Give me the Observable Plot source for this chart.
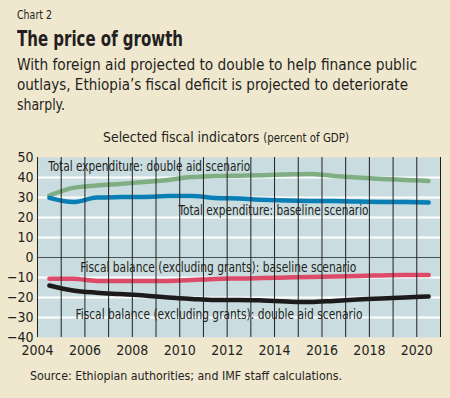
<!DOCTYPE html>
<html>
<head>
<meta charset="utf-8">
<script src="https://cdn.jsdelivr.net/npm/d3@7"></script>
<script src="https://cdn.jsdelivr.net/npm/@observablehq/plot@0.6"></script>
<style>
  html, body { margin: 0; padding: 0; }
  body { width: 450px; height: 398px; background: #f0e7cf; position: relative; overflow: hidden;
         font-family: "DejaVu Sans Condensed", "Liberation Sans", sans-serif; color: #231f20; }
  .abs { position: absolute; white-space: nowrap; transform-origin: 0 0; }
  #kicker { left: 17px; top: 8px; font-size: 12px; }
  #title { left: 17px; top: 27px; font-size: 21px; font-weight: bold; }
  .sub { left: 17px; font-size: 16.5px; }
  #sub1 { top: 55px; }
  #sub2 { top: 75px; }
  #sub3 { top: 95px; }
  #charttitle { left: 103px; top: 129px; font-size: 14px; }
  #charttitle span { font-size: 11.5px; }
  #source { left: 30px; top: 369px; font-size: 12.3px; }
  #chart { position: absolute; left: 0; top: 145px; }
</style>
</head>
<body>
<div class="abs" id="kicker" data-w="35">Chart 2</div>
<div class="abs" id="title" data-w="166">The price of growth</div>
<div class="abs sub" id="sub1" data-w="400">With foreign aid projected to double to help finance public</div>
<div class="abs sub" id="sub2" data-w="391">outlays, Ethiopia’s fiscal deficit is projected to deteriorate</div>
<div class="abs sub" id="sub3" data-w="48">sharply.</div>
<div class="abs" id="charttitle" data-w="246">Selected fiscal indicators <span>(percent of GDP)</span></div>
<div id="chart"></div>
<div class="abs" id="source" data-w="312">Source: Ethiopian authorities; and IMF staff calculations.</div>
<script>
// Years (values plotted at mid-year)
const years = [2004.5, 2005.5, 2006.5, 2007.5, 2008.5, 2009.5, 2010.5, 2011.5, 2012.5,
               2013.5, 2014.5, 2015.5, 2016.5, 2017.5, 2018.5, 2019.5, 2020.5];
const expDoubleAid = [31, 34.8, 36, 36.8, 37.7, 38.8, 40.2, 40.7, 40.9, 41.1, 41.5, 41.8, 40.8, 40, 39.3, 38.8, 38.3];
const expBaseline  = [29.8, 27.7, 30, 30.2, 30.3, 30.7, 30.8, 29.8, 29.5, 28.9, 28.5, 28.3, 28.2, 28, 27.8, 27.7, 27.5];
const balBaseline  = [-10.6, -10.6, -11.7, -11.7, -11.7, -11.7, -11.3, -10.7, -10.5, -10.3, -10, -9.7, -9.5, -9.2, -9, -8.8, -8.7];
const balDoubleAid = [-14, -16.5, -17.6, -18.3, -19, -20, -20.7, -21.2, -21.2, -21.5, -22, -22.3, -21.7, -21, -20.5, -20, -19.5];

const seriesNames = ["expDoubleAid", "expBaseline", "balBaseline", "balDoubleAid"];
const seriesValues = [expDoubleAid, expBaseline, balBaseline, balDoubleAid];
const seriesColors = ["#7fae82", "#0a7fb6", "#de4b68", "#1c1a1a"];

const yTicks = [50, 40, 30, 20, 10, 0, -10, -20, -30, -40];
const xTickLabels = [2004, 2006, 2008, 2010, 2012, 2014, 2016, 2018, 2020];
const xTickMarks = d3.range(2004, 2022);

// In-chart labels (text, anchor year, anchor value)
const labelText = ["Total expenditure: double aid scenario",
                   "Total expenditure: baseline scenario",
                   "Fiscal balance (excluding grants): baseline scenario",
                   "Fiscal balance (excluding grants): double aid scenario"];
const labelYear = [2004.45, 2009.95, 2005.8, 2005.6];
const labelValue = [45.2, 23.5, -4.9, -28.5];

// Styling: rendered widths of the in-chart labels (condensed face)
const labelPixelWidths = [202, 190, 276, 287];

const lineData = seriesNames.flatMap((s, i) => years.map((yr, j) => ({series: s, year: yr, value: seriesValues[i][j]})));
const labels = labelText.map((t, i) => ({text: t, year: labelYear[i], value: labelValue[i]}));

const plot = Plot.plot({
  width: 450,
  height: 215,
  marginTop: 12,
  marginLeft: 37,
  marginRight: 10,
  marginBottom: 23,
  style: {background: "transparent", fontFamily: "'DejaVu Sans Condensed', sans-serif", color: "#231f20"},
  x: {domain: [2004, 2021], axis: null},
  y: {domain: [-40, 50], axis: null},
  color: {domain: seriesNames, range: seriesColors},
  marks: [
    Plot.frame({fill: "#c9dcdf", stroke: null}),
    Plot.ruleY(yTicks.filter(d => d !== 0 && d !== -40 && d !== 50), {stroke: "#ffffff", strokeWidth: 2}),
    Plot.ruleY([0], {stroke: "#4a525a", strokeWidth: 1}),
    Plot.line(lineData, {x: "year", y: "value", z: "series", stroke: "series", strokeWidth: 4.5, curve: "monotone-x", strokeLinecap: "round"}),
    Plot.text(labels, {x: "year", y: "value", text: "text", textAnchor: "start", fontSize: 13.5, fill: "#231f20", className: "inlabel"}),
    Plot.tickX(xTickMarks, {x: d => d, y1: -40, y2: -37.5, stroke: "#231f20", strokeWidth: 1}),
    Plot.axisY(yTicks, {tickSize: 0, tickPadding: 4, fontSize: 14, label: null}),
    Plot.axisX(xTickLabels, {tickSize: 0, tickPadding: 8, fontSize: 14, tickFormat: d => String(d), label: null})
  ]
});
document.getElementById("chart").appendChild(plot);

// Condense in-chart labels to the reference's narrow face
plot.querySelectorAll(".inlabel text").forEach((t, i) => {
  t.setAttribute("textLength", labelPixelWidths[i]);
  t.setAttribute("lengthAdjust", "spacingAndGlyphs");
});

// Condense header/footer texts horizontally to the reference's widths
document.querySelectorAll(".abs[data-w]").forEach(el => {
  const w = el.getBoundingClientRect().width;
  const target = +el.dataset.w;
  if (w > 0) el.style.transform = `scaleX(${target / w})`;
});
</script>
</body>
</html>
